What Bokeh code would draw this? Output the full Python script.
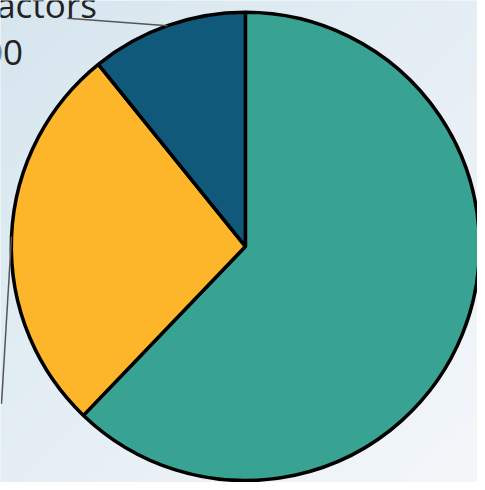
import numpy as np
from bokeh.plotting import figure
from bokeh.models import Range1d, ColumnDataSource
from bokeh.core.properties import value
from bokeh.embed import file_html
from bokeh.resources import INLINE

# Data (clockwise from 12 o'clock)
categories = ["Staff", "Materials", "Contractors"]
amounts = [6900, 3000, 1200]
colors = ["#38a393", "#fdb62a", "#10597b"]
label_name = "Contractors"
label_value = "$1,200"

W, H = 477, 482
RW, RH = 485, 490  # reference coordinate frame
p = figure(width=W, height=H, x_range=Range1d(0, RW), y_range=Range1d(0, RH),
           toolbar_location=None, output_backend="svg", min_border=0)
p.axis.visible = False
p.grid.visible = False
p.outline_line_color = None
p.background_fill_color = "#e6eff5"
p.border_fill_color = "#e6eff5"

# soft background gradient (darker top-left, lighter bottom-right)
n = 64
img = np.empty((n, n), dtype=np.uint32)
view = img.view(dtype=np.uint8).reshape((n, n, 4))
c0 = np.array([0xd6, 0xe6, 0xef], dtype=float)
c1 = np.array([0xf4, 0xf7, 0xfa], dtype=float)
for j in range(n):
    for i in range(n):
        t = (i / (n - 1) + (n - 1 - j) / (n - 1)) / 2.0
        c = c0 + (c1 - c0) * t
        view[j, i, 0:3] = c.astype(np.uint8)
        view[j, i, 3] = 255
p.image_rgba(image=[img], x=0, y=0, dw=RW, dh=RH)

# pie geometry (reference pixels; y measured upward from bottom)
cx, cy, R = 249, RH - 250, 238
vals = np.array(amounts, dtype=float)
frac = vals / vals.sum()
cum = np.concatenate([[0], np.cumsum(frac)])
start = np.pi / 2 - 2 * np.pi * cum[:-1]
end = np.pi / 2 - 2 * np.pi * cum[1:]
src = ColumnDataSource(dict(cat=categories, start=start, end=end, color=colors))
p.wedge(x=cx, y=cy, radius=R, start_angle="start", end_angle="end", direction="clock",
        fill_color="color", line_color="black", line_width=3.5, source=src)

mid = (start + end) / 2
# leader lines
mx = cx + R * np.cos(mid)
my = cy + R * np.sin(mid)
p.line(x=[mx[2], 68], y=[my[2], RH - 18], line_color="#555555", line_width=1.5)
p.line(x=[mx[1], 1], y=[my[1], RH - 410], line_color="#555555", line_width=1.5)

# labels
p.text(x=[98], y=[RH - 4], text=[label_name], text_align="right", text_baseline="alphabetic",
       text_font=value("Open Sans"), text_font_size="35px", text_color="#222222")
p.text(x=[23], y=[RH - 52], text=[label_value], text_align="right", text_baseline="alphabetic",
       text_font=value("Open Sans"), text_font_size="35px", text_color="#222222")

open("out.html", "w").write(file_html(p, INLINE))
